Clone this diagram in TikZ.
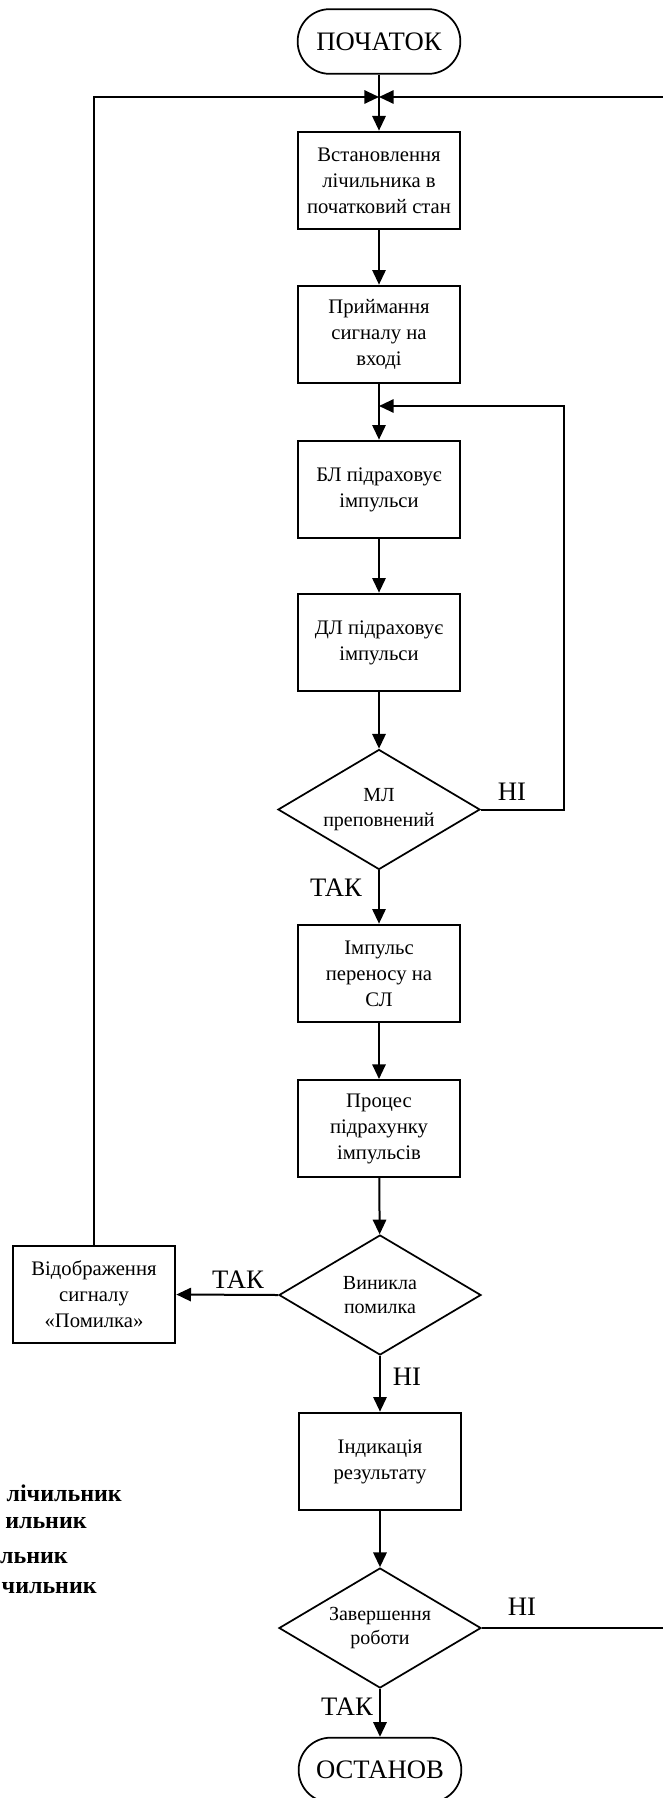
\documentclass[tikz,border=0pt]{standalone}
\usepackage{fontspec}
\setmainfont{Liberation Serif}
\usetikzlibrary{shapes.geometric, arrows.meta}

\begin{document}
\begin{tikzpicture}[x=0.75pt, y=-0.75pt]

\tikzset{procbox/.style={
		draw, line width=2pt,
		minimum width=121.5pt, minimum height=72.75pt,
		align=center, inner sep=0pt,
		font=\fontsize{15.5}{19.5}\selectfont
	},
	decision/.style={
		diamond, draw, line width=1.3pt, aspect=1.7,
		minimum width=151.5pt, minimum height=90pt,
		align=center, inner sep=0pt,
		font=\fontsize{15}{18.5}\selectfont
	},
	terminal/.style={
		draw, line width=1.3pt, rounded corners=24pt,
		minimum width=122pt, minimum height=48.5pt,
		font=\fontsize{20}{24}\selectfont
	},
	answer/.style={inner sep=0pt, font=\fontsize{20}{24}\selectfont},
	fragment/.style={inner sep=0pt, anchor=east, font=\bfseries\fontsize{18}{22}\selectfont},
	flow/.style={line width=1.5pt, -{Triangle[length=11pt,width=10pt]}}
}

\useasboundingbox (0,0) rectangle (663,1798);
\clip (0,0) rectangle (663,1798);

\node[terminal] (start) at (379,41.5) {ПОЧАТОК};
\node[procbox] (reset) at (379,180.5) {Встановлення\\лічильника в\\початковий стан};
\node[procbox] (input) at (379,334.5) {Приймання\\сигналу на\\вході};
\node[procbox] (countbl) at (379,489.5) {БЛ підраховує\\імпульси};
\node[procbox] (countdl) at (379,642.5) {ДЛ підраховує\\імпульси};
\node[decision] (mlfull) at (379,809.5) {МЛ\\преповнений};
\node[procbox] (carry) at (379,973.5) {Імпульс\\переносу на\\СЛ};
\node[procbox, line width=1.5pt] (process) at (379,1128.5) {Процес\\підрахунку\\імпульсів};
\node[decision] (error) at (380,1295) {Виникла\\помилка};
\node[procbox] (errshow) at (94,1294.5) {Відображення\\сигналу\\«Помилка»};
\node[procbox] (result) at (380,1461.5) {Індикація\\результату};
\node[decision] (finish) at (380,1628) {Завершення\\роботи};
\node[terminal] (stop) at (380,1770) {ОСТАНОВ};

\node[answer] (no1) at (512,792) {НІ};
\node[answer] (yes1) at (336,888) {ТАК};
\node[answer] (yes2) at (238,1280) {ТАК};
\node[answer] (no2) at (407,1377) {НІ};
\node[answer] (no3) at (522,1607) {НІ};
\node[answer] (yes3) at (347,1707) {ТАК};

\node[fragment] (frag1) at (122,1493) {лічильник};
\node[fragment] (frag2) at (87,1523) {ильник};
\node[fragment] (frag3) at (68,1558) {льник};
\node[fragment] (frag4) at (97,1588) {чильник};

\coordinate (topin) at (379,97);
\coordinate (loopin) at (379,406);

\draw[flow] (start.south) -- (reset.north);
\draw[flow] (reset) -- (input);
\draw[flow] (input) -- (countbl);
\draw[flow] (countbl) -- (countdl);
\draw[flow] (countdl) -- (mlfull);
\draw[flow] (mlfull) -- (carry);
\draw[flow] (mlfull.east) -- ++(83,0) |- (loopin);
\draw[flow] (carry) -- (process);
\draw[flow] (process) -- (error);
\draw[flow] (error.west) -- (errshow.east);
\draw[flow] (errshow.north) |- (topin);
\draw[flow] (error) -- (result);
\draw[flow] (result) -- (finish);
\draw[flow] (finish) -- (stop);
\draw[flow] (finish.east) -- ++(250,0) |- (topin);
\end{tikzpicture}
\end{document}
